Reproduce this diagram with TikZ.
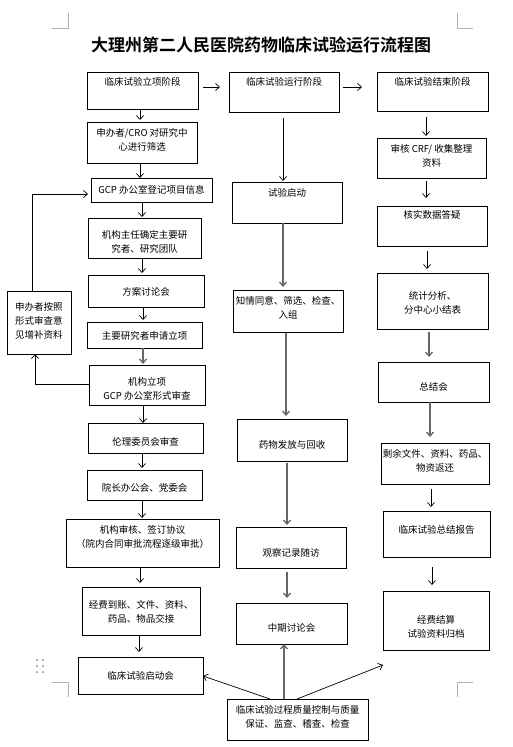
\documentclass[tikz,border=0pt]{standalone}
\usepackage{fontspec}
\newfontfamily\cjk{Noto Sans CJK SC}[BoldFont={Noto Sans CJK SC Bold}]
\usetikzlibrary{arrows.meta}
\tikzset{
 boxst/.style={draw=black, line width=0.9pt, inner sep=0pt, outer sep=0pt, rectangle},
 txt/.style={font=\cjk\fontsize{9.5}{14}\selectfont, align=center, inner sep=0pt},
 arr/.style={draw=black, line width=0.7pt, -{Straight Barb[length=4pt,width=7pt]}},
 garr/.style={arr, draw=black!60, line width=1.3pt},
 cornermk/.style={draw=black!30, line width=0.6pt},
}
\newcommand\bx[7]{%
 \node[boxst, minimum width={#4pt-#2pt}, minimum height={#5pt-#3pt}] (#1) at ({(#2+#4)/2},{(#3+#5)/2}) {};
 \node[txt] (#1t) at ({(#2+#4)/2},#6) {#7};}
\newcommand\va[6]{\draw[#1, shorten <=#5pt, shorten >=#6pt] (#2.south -| #4,0) -- (#3.north -| #4,0);}
\begin{document}
\begin{tikzpicture}[x=1pt,y=-1pt]
\fill[white] (0,0) rectangle (513,747);
\useasboundingbox (0,0) rectangle (513,747);
% corner marks
\draw[cornermk] (52,28) -- (68,28) -- (68,13);
\draw[cornermk] (457,13) -- (457,28) -- (473,28);
\draw[cornermk] (52,682) -- (68,682) -- (68,697);
\draw[cornermk] (473,682) -- (457,682) -- (457,697);
\foreach \dx in {37,43} \foreach \dy in {660,666,672} \fill[black!45] (\dx,\dy) circle (1pt);
% title
\node[font=\cjk\bfseries\fontsize{17}{20}\selectfont, inner sep=0pt] (title) at (261,45) {大理州第二人民医院药物临床试验运行流程图};
% left column
\bx{a0}{87}{72}{198}{109}{82}{临床试验立项阶段}
\bx{a1}{87}{122}{197}{163}{140}{申办者/CRO 对研究中\\心进行筛选}
\bx{a2}{91}{178}{212}{202}{190}{GCP 办公室登记项目信息}
\bx{a3}{88}{218}{201}{258}{241.5}{机构主任确定主要研\\究者、研究团队}
\bx{a4}{88}{275}{204}{307}{292}{方案讨论会}
\bx{a5}{87}{322}{202}{348}{336}{主要研究者申请立项}
\bx{a6}{89}{365}{205}{405}{388.5}{机构立项\\GCP 办公室形式审查}
\bx{a7}{88}{423}{203}{453}{442}{伦理委员会审查}
\bx{a8}{87}{470}{202}{500}{488}{院长办公会、党委会}
\bx{a9}{66}{519}{219}{567}{537}{机构审核、签订协议\\（院内合同审批流程逐级审批）}
\bx{a10}{82}{587}{200}{635}{612}{经费到账、文件、资料、\\药品、物品交接}
\bx{a11}{78}{657}{203}{694}{676}{临床试验启动会}
\bx{s}{7}{291}{71}{354}{320.5}{申办者按照\\形式审查意\\见增补资料}
% middle column
\bx{b0}{229}{72}{339}{112}{82}{临床试验运行阶段}
\bx{b1}{232}{182}{342}{223}{193}{试验启动}
\bx{b2}{233}{290}{343}{332}{307.5}{知情同意、筛选、检查、\\入组}
\bx{b3}{237}{419}{347}{461}{445}{药物发放与回收}
\bx{b4}{236}{527}{346}{568}{553}{观察记录随访}
\bx{b5}{236}{603}{347}{644}{628}{中期讨论会}
\bx{b6}{227}{699}{368}{740}{716.5}{临床试验过程质量控制与质量\\保证、监查、稽查、检查}
% right column
\bx{c0}{377}{72}{488}{111}{82}{临床试验结束阶段}
\bx{c1}{377}{138}{486}{178}{155.5}{审核 CRF/ 收集整理\\资料}
\bx{c2}{377}{206}{487}{246}{215}{核实数据答疑}
\bx{c3}{377}{273}{488}{329}{302.5}{统计分析、\\分中心小结表}
\bx{c4}{378}{362}{489}{402}{387}{总结会}
\bx{c5}{381}{443}{489}{484}{461}{剩余文件、资料、药品、\\物资返还}
\bx{c6}{383}{511}{490}{557}{530}{临床试验总结报告}
\bx{c7}{383}{591}{489}{650}{627}{经费结算\\试验资料归档}
% left arrows
\va{arr}{a0}{a1}{140}{1}{2}
\va{arr}{a1}{a2}{140}{0}{0}
\va{arr}{a2}{a3}{142}{0}{1}
\va{arr}{a3}{a4}{142}{0}{2}
\va{arr}{a4}{a5}{143}{0}{2}
\va{garr}{a5}{a6}{143}{0}{1}
\va{arr}{a6}{a7}{143}{0}{0}
\va{arr}{a7}{a8}{142}{0}{2}
\va{arr}{a8}{a9}{142}{0}{1}
\va{arr}{a9}{a10}{140}{0}{4}
\va{arr}{a10}{a11}{139}{0}{5}
% stage arrows
\draw[arr, shorten <=5pt, shorten >=9pt] (a0.east |- 0,87) -- (b0.west |- 0,87);
\draw[arr, shorten <=4pt, shorten >=15pt] (b0.east |- 0,87) -- (c0.west |- 0,87);
% middle arrows
\va{arr}{b0}{b1}{283}{6}{1}
\va{garr}{b1}{b2}{283}{0}{3}
\va{garr}{b2}{b3}{286}{1}{3}
\va{garr}{b3}{b4}{287}{2}{2}
\va{garr}{b4}{b5}{287}{4}{5}
\draw[garr] (b6.north -| 284,0) -- (b5.south -| 284,0);
\draw[arr] (b6.north -| 270,0) -- (a11.east |- 0,676);
\coordinate (qfree) at (383,665);
\draw[arr] (b6.north -| 297,0) -- (qfree);
% right arrows
\va{arr}{c0}{c1}{426}{6}{2}
\va{arr}{c1}{c2}{426}{3}{8}
\va{arr}{c2}{c3}{427}{5}{4}
\va{garr}{c3}{c4}{429}{3}{5}
\va{garr}{c4}{c5}{430}{0}{6}
\va{arr}{c5}{c6}{431}{5}{4}
\va{arr}{c6}{c7}{432}{10}{6}
% side loop
\draw[arr] (a6.west |- 0,384) -| (s.south -| 35,0);
\draw[arr, shorten >=3pt] (s.north -| 32,0) |- (a2.west |- 0,194);
\end{tikzpicture}
\end{document}
